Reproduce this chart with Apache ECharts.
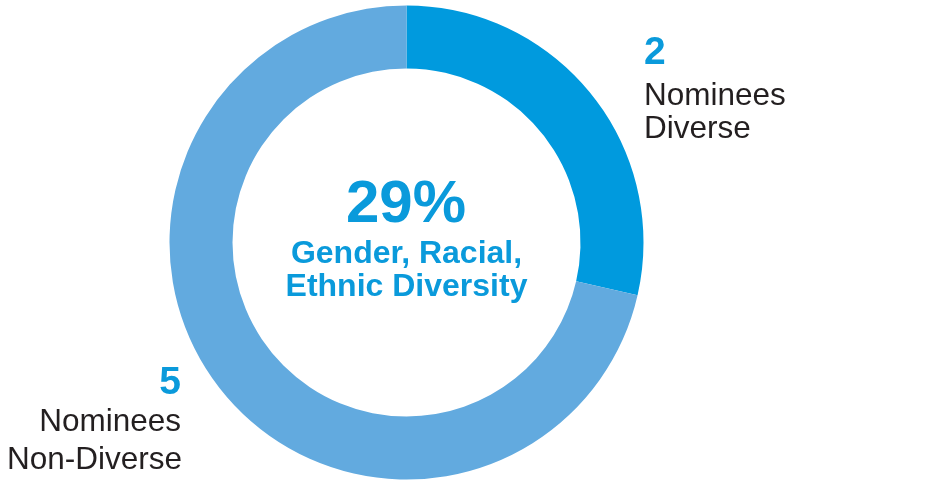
<!DOCTYPE html>
<html>
<head>
<meta charset="utf-8">
<script src="https://cdn.jsdelivr.net/npm/echarts@6/dist/echarts.min.js"></script>
<style>
html,body{margin:0;padding:0;background:#fff;}
#chart{width:928px;height:490px;}
</style>
</head>
<body>
<div id="chart"></div>
<script>
const categories = ['Diverse', 'Non-Diverse'];
const values = [2, 5];
const sliceColors = ['#009ADE', '#62AADF'];
const centerTitle = 'Gender, Racial,';
const centerTitle2 = 'Ethnic Diversity';
const labelWord = 'Nominees';

const total = values.reduce((a, b) => a + b, 0);
const pct = Math.round(values[0] / total * 100) + '%';

const BLUE = '#0A9ADB';
const DARK = '#231F20';
const FONT = '"Liberation Sans", Arial, Helvetica, sans-serif';

const chart = echarts.init(document.getElementById('chart'), null, {renderer: 'canvas'});

function txt(text, x, y, size, weight, color, align) {
  return {
    type: 'text', silent: true,
    style: {
      text: text, x: x, y: y, fill: color,
      font: weight + ' ' + size + 'px ' + FONT,
      align: align, verticalAlign: 'middle'
    }
  };
}

chart.setOption({
  animation: false,
  series: [{
    type: 'pie',
    center: [406.5, 242.5],
    radius: [174, 237],
    startAngle: 90,
    clockwise: true,
    silent: true,
    label: {show: false},
    labelLine: {show: false},
    emphasis: {disabled: true},
    itemStyle: {borderWidth: 0},
    data: categories.map((c, i) => ({name: c, value: values[i], itemStyle: {color: sliceColors[i]}}))
  }],
  graphic: [
    txt(pct, 406, 205, 60, 'bold', BLUE, 'center'),
    txt(centerTitle, 406.5, 254, 32, 'bold', BLUE, 'center'),
    txt(centerTitle2, 406.5, 287, 32, 'bold', BLUE, 'center'),
    txt(String(values[0]), 644, 53, 39, 'bold', BLUE, 'left'),
    txt(labelWord, 644, 96, 31.5, 'normal', DARK, 'left'),
    txt(categories[0], 644, 129, 31.5, 'normal', DARK, 'left'),
    txt(String(values[1]), 181, 383, 39, 'bold', BLUE, 'right'),
    txt(labelWord, 181, 422, 31.5, 'normal', DARK, 'right'),
    txt(categories[1], 182, 460, 31.5, 'normal', DARK, 'right')
  ]
});
</script>
</body>
</html>
